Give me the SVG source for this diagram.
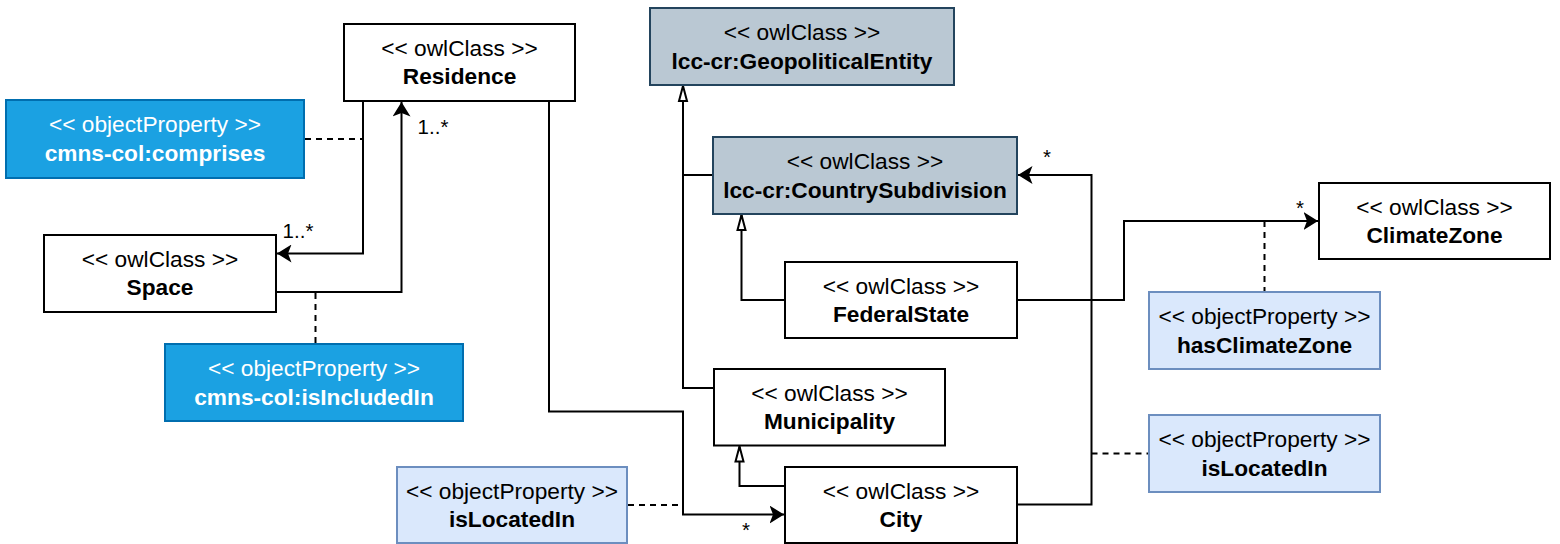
<svg xmlns="http://www.w3.org/2000/svg" width="1560" height="544" viewBox="0 0 1560 544">
<style>
.box{stroke-width:2}
.cls{fill:#ffffff;stroke:#000000}
.gray{fill:#bac8d3;stroke:#23445d}
.lb{fill:#dae8fc;stroke:#6c8ebf}
.db{fill:#1ba1e2;stroke:#006eaf}
text{font-family:"Liberation Sans",Arial,Helvetica,sans-serif;font-size:22.7px;text-anchor:middle;fill:#000000}
.b{font-weight:bold}
.w{fill:#ffffff}
.lbl{font-size:20.5px}
.ln{fill:none;stroke:#000000;stroke-width:2}
.dash{stroke-dasharray:6 5}
</style>
<defs>
<marker id="arr" markerUnits="userSpaceOnUse" markerWidth="15" markerHeight="18" viewBox="0 0 15 18" refX="14.5" refY="9" orient="auto">
<path d="M0,0 L14.5,9 L0,18 L3.5,9 Z" fill="#000000"/>
</marker>
<marker id="tri" markerUnits="userSpaceOnUse" markerWidth="20" markerHeight="14" viewBox="-2 -3 20 14" refX="15" refY="4" orient="auto" overflow="visible">
<path d="M0,0 L15,4 L0,8 Z" fill="#ffffff" stroke="#000000" stroke-width="2"/>
</marker>
</defs>
<g id="connectors">
<path class="ln" d="M363,101 V253.5 H277" marker-end="url(#arr)"/>
<path class="ln" d="M276,292 H401.5 V102" marker-end="url(#arr)"/>
<path class="ln dash" d="M305,139 H362"/>
<path class="ln dash" d="M315.5,293 V344"/>
<path class="ln" d="M549,101 V411.5 H683 V514.5 H784" marker-end="url(#arr)"/>
<path class="ln dash" d="M628,505 H683"/>
<path class="ln" d="M1017,504.5 H1091.5 V175 H1018" marker-end="url(#arr)"/>
<path class="ln dash" d="M1091.5,453.5 H1149"/>
<path class="ln" d="M1017,300 H1124 V221 H1318" marker-end="url(#arr)"/>
<path class="ln dash" d="M1264.5,221 V292"/>
<path class="ln" d="M714,388 H683 V86" marker-end="url(#tri)"/>
<path class="ln" d="M713,175 H683"/>
<path class="ln" d="M785,300 H741.5 V215" marker-end="url(#tri)"/>
<path class="ln" d="M785,486 H739.5 V446.5" marker-end="url(#tri)"/>
<text class="lbl" x="298" y="237.5">1..*</text>
<text class="lbl" x="433" y="133.5">1..*</text>
<text class="lbl" x="746" y="537">*</text>
<text class="lbl" x="1047" y="164">*</text>
<text class="lbl" x="1300" y="215">*</text>
</g>
<g id="residence">
<rect class="box cls" x="344" y="24" width="231" height="77"/>
<text x="459.5" y="55.5">&lt;&lt; owlClass &gt;&gt;</text>
<text class="b" x="459.5" y="84">Residence</text>
</g>
<g id="comprises">
<rect class="box db" x="6" y="100" width="298" height="78"/>
<text class="w" x="155" y="132">&lt;&lt; objectProperty &gt;&gt;</text>
<text class="b w" x="155" y="160.5">cmns-col:comprises</text>
</g>
<g id="space">
<rect class="box cls" x="44" y="235" width="232" height="77"/>
<text x="160" y="266.5">&lt;&lt; owlClass &gt;&gt;</text>
<text class="b" x="160" y="295">Space</text>
</g>
<g id="isIncludedIn">
<rect class="box db" x="165" y="344" width="298" height="77"/>
<text class="w" x="314" y="376">&lt;&lt; objectProperty &gt;&gt;</text>
<text class="b w" x="314" y="404.5">cmns-col:isIncludedIn</text>
</g>
<g id="geopoliticalEntity">
<rect class="box gray" x="650" y="8" width="304" height="77"/>
<text x="802" y="40">&lt;&lt; owlClass &gt;&gt;</text>
<text class="b" x="802" y="68.5">lcc-cr:GeopoliticalEntity</text>
</g>
<g id="countrySubdivision">
<rect class="box gray" x="713" y="137" width="304" height="77"/>
<text x="865" y="169">&lt;&lt; owlClass &gt;&gt;</text>
<text class="b" x="865" y="197.5">lcc-cr:CountrySubdivision</text>
</g>
<g id="federalState">
<rect class="box cls" x="785" y="262" width="232" height="76"/>
<text x="901" y="293.5">&lt;&lt; owlClass &gt;&gt;</text>
<text class="b" x="901" y="322">FederalState</text>
</g>
<g id="municipality">
<rect class="box cls" x="714" y="369" width="231" height="76.5"/>
<text x="829.5" y="400.5">&lt;&lt; owlClass &gt;&gt;</text>
<text class="b" x="829.5" y="429">Municipality</text>
</g>
<g id="city">
<rect class="box cls" x="785" y="467" width="232" height="76"/>
<text x="901" y="498.5">&lt;&lt; owlClass &gt;&gt;</text>
<text class="b" x="901" y="527">City</text>
</g>
<g id="climateZone">
<rect class="box cls" x="1319" y="183" width="231" height="76"/>
<text x="1434.5" y="214.5">&lt;&lt; owlClass &gt;&gt;</text>
<text class="b" x="1434.5" y="243">ClimateZone</text>
</g>
<g id="hasClimateZone">
<rect class="box lb" x="1149" y="292" width="231" height="77"/>
<text x="1264.5" y="324">&lt;&lt; objectProperty &gt;&gt;</text>
<text class="b" x="1264.5" y="352.5">hasClimateZone</text>
</g>
<g id="isLocatedInRight">
<rect class="box lb" x="1149" y="415" width="231" height="77"/>
<text x="1264.5" y="447">&lt;&lt; objectProperty &gt;&gt;</text>
<text class="b" x="1264.5" y="475.5">isLocatedIn</text>
</g>
<g id="isLocatedInLeft">
<rect class="box lb" x="397" y="467" width="230" height="76"/>
<text x="512" y="498.5">&lt;&lt; objectProperty &gt;&gt;</text>
<text class="b" x="512" y="527">isLocatedIn</text>
</g>
</svg>
